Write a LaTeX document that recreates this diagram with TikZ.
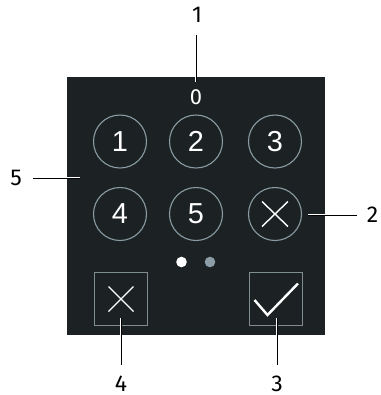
\documentclass[tikz,border=0pt]{standalone}
\usepackage{fontspec}
\setmainfont{Liberation Sans}
\newfontfamily\calloutfont{Fira Sans}
\definecolor{panelbg}{HTML}{1C2224}
\definecolor{ringgray}{HTML}{8A9BA3}
\definecolor{boxgray}{HTML}{7F8C90}
\definecolor{dotgray}{HTML}{8C9DA6}
\tikzset{
  key/.style={circle, draw=ringgray, line width=1.1bp, minimum size=53bp,
    inner sep=0pt, text=white, font=\fontsize{29}{29}\selectfont},
  btn/.style={draw=boxgray, line width=1.1bp, minimum size=53bp, inner sep=0pt},
  callout/.style={inner sep=0pt, font=\calloutfont\fontsize{23}{23}\selectfont},
  leader/.style={line width=0.9bp, preaction={draw=white, line width=2.4bp}}
}
\begin{document}
\begin{tikzpicture}[x=1bp,y=-1bp]

\useasboundingbox (0,0) rectangle (381,395);

% Anzeige
\fill[panelbg] (67,77) rectangle (325,335);

\node[inner sep=0pt, text=white, font=\calloutfont\fontsize{22}{22}\selectfont]
(entry) at (196,97) {0};

% Tasten
\node[key] (k1) at (120,141.5) {1};
\node[key] (k2) at (196,141.5) {2};
\node[key] (k3) at (275,141.5) {3};
\node[key] (k4) at (120,214) {4};
\node[key] (k5) at (196,214) {5};
\node[key] (kdel) at (275,214) {};
\draw[white, line width=1.4bp]
(kdel.center) ++(-13,-12.5) -- ++(26,25)
(kdel.center) ++(13,-12.5) -- ++(-26,25);

% Seitenpunkte
\fill[white] (181.5,262) circle (5.3);
\fill[dotgray] (210,262) circle (5.3);

% Abbrechen / OK
\node[btn] (cancel) at (121,299) {};
\draw[white, line width=1.4bp]
(cancel.center) ++(-12.5,-12.5) -- ++(25,25)
(cancel.center) ++(12.5,-12.5) -- ++(-25,25);

\node[btn] (ok) at (276,299) {};
\draw[white, line width=2.4bp, line join=miter]
(254.5,300) -- (267.5,315) -- (298,283.5);

% Positionsnummern
\node[callout] (c1) at (197,15) {1};
\node[callout] (c2) at (372.5,215) {2};
\node[callout] (c3) at (277,383.5) {3};
\node[callout] (c4) at (121,383.5) {4};
\node[callout] (c5) at (16,178) {5};

\coordinate (e1) at (196,82);
\coordinate (e2) at (308,215);
\coordinate (e3) at (277,318);
\coordinate (e4) at (121,318);
\coordinate (e5) at (80,178);

\draw[leader] (196,35) -- (e1);
\draw[leader] (357,215) -- (e2);
\draw[leader] (277,365) -- (e3);
\draw[leader] (121,365) -- (e4);
\draw[leader] (33,178) -- (e5);

\end{tikzpicture}
\end{document}
